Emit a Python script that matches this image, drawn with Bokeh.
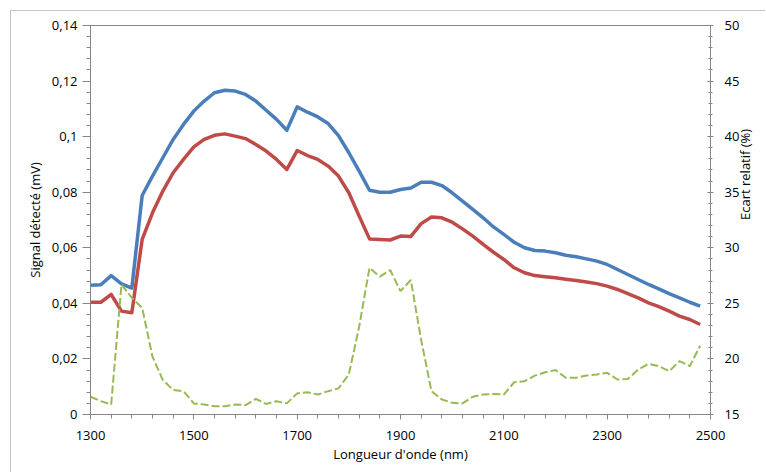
import math
from bokeh.plotting import figure
from bokeh.models import Range1d, LinearAxis, FixedTicker, CustomJSTickFormatter
from bokeh.embed import file_html
from bokeh.resources import INLINE

# ---------------- data ----------------
wavelength = [1300, 1320, 1340, 1360, 1380, 1400, 1420, 1440, 1460, 1480,
              1500, 1520, 1540, 1560, 1580, 1600, 1620, 1640, 1660, 1680,
              1700, 1720, 1740, 1760, 1780, 1800, 1820, 1840, 1860, 1880,
              1900, 1920, 1940, 1960, 1980, 2000, 2020, 2040, 2060, 2080,
              2100, 2120, 2140, 2160, 2180, 2200, 2220, 2240, 2260, 2280,
              2300, 2320, 2340, 2360, 2380, 2400, 2420, 2440, 2460, 2480]

signal_blue = [0.0465, 0.0467, 0.0500, 0.0470, 0.0455, 0.0788, 0.0858, 0.0924, 0.0990, 0.1044,
               0.1092, 0.1128, 0.1158, 0.1167, 0.1164, 0.1152, 0.1128, 0.1095, 0.1062, 0.1023,
               0.1107, 0.1088, 0.1071, 0.1047, 0.1004, 0.0942, 0.0876, 0.0807, 0.0800, 0.0800,
               0.0810, 0.0815, 0.0836, 0.0836, 0.0824, 0.0798, 0.0768, 0.0738, 0.0708, 0.0675,
               0.0648, 0.0620, 0.0600, 0.0590, 0.0588, 0.0582, 0.0573, 0.0568, 0.0560, 0.0552,
               0.0540, 0.0522, 0.0504, 0.0486, 0.0468, 0.0452, 0.0435, 0.0420, 0.0404, 0.0390]

signal_red = [0.0404, 0.0404, 0.0432, 0.0372, 0.0366, 0.0630, 0.0726, 0.0804, 0.0870, 0.0918,
              0.0963, 0.0990, 0.1005, 0.1010, 0.1002, 0.0993, 0.0972, 0.0948, 0.0918, 0.0882,
              0.0950, 0.0932, 0.0918, 0.0894, 0.0858, 0.0798, 0.0714, 0.0632, 0.0630, 0.0628,
              0.0642, 0.0641, 0.0687, 0.0711, 0.0708, 0.0692, 0.0668, 0.0642, 0.0612, 0.0584,
              0.0558, 0.0528, 0.0510, 0.0500, 0.0496, 0.0492, 0.0487, 0.0482, 0.0477, 0.0471,
              0.0462, 0.0450, 0.0435, 0.0420, 0.0402, 0.0388, 0.0372, 0.0354, 0.0342, 0.0324]

ecart_relatif = [16.6, 16.2, 15.9, 26.7, 25.5, 24.6, 20.2, 18.1, 17.2, 17.1,
                 16.0, 15.9, 15.75, 15.75, 15.9, 15.85, 16.4, 15.95, 16.2, 16.0,
                 16.9, 17.0, 16.8, 17.1, 17.35, 18.6, 22.9, 28.2, 27.4, 28.0,
                 26.1, 27.1, 21.7, 17.1, 16.35, 16.05, 16.0, 16.6, 16.8, 16.85,
                 16.8, 17.9, 18.0, 18.5, 18.8, 19.0, 18.3, 18.3, 18.5, 18.6,
                 18.75, 18.15, 18.2, 19.05, 19.55, 19.35, 18.9, 19.8, 19.35, 21.2]

x_ticks = [1300, 1500, 1700, 1900, 2100, 2300, 2500]
x_minor_ticks = list(range(1300, 2501, 40))
left_ticks = [0, 0.02, 0.04, 0.06, 0.08, 0.10, 0.12, 0.14]
left_tick_labels = ["0", "0,02", "0,04", "0,06", "0,08", "0,1", "0,12", "0,14"]
left_minor_ticks = [i * 0.004 for i in range(36)]
right_ticks = [15, 20, 25, 30, 35, 40, 45, 50]
right_minor_ticks = list(range(15, 51))

FONT = "Open Sans"
AXIS_COL = "#868686"
TXT_COL = "#000000"

p = figure(width=755, height=462, output_backend="svg", toolbar_location=None,
           x_range=Range1d(1300, 2500), y_range=Range1d(0, 0.14),
           min_border_left=79, min_border_right=54, min_border_top=14, min_border_bottom=59)
# light outer chart border (only its left and top edges are visible in the reference)
p.styles = {"border-left": "1px solid #c4c4c4", "border-top": "1px solid #c4c4c4",
            "margin-left": "10px", "margin-top": "10px"}
p.extra_y_ranges = {"ecart": Range1d(15, 50)}
p.grid.visible = False
p.outline_line_color = AXIS_COL
p.outline_line_width = 1
p.background_fill_color = "white"
p.border_fill_color = "white"

p.line(wavelength, signal_blue, line_color="#4a7ebb", line_width=3.5, line_join="round")
p.line(wavelength, signal_red, line_color="#be4b48", line_width=3.5, line_join="round")
p.line(wavelength, ecart_relatif, y_range_name="ecart", line_color="#98b954",
       line_width=2, line_dash="8 3")

right_axis = LinearAxis(y_range_name="ecart")
p.add_layout(right_axis, "right")

def style_axis(ax):
    ax.axis_line_color = AXIS_COL
    ax.major_tick_line_color = AXIS_COL
    ax.minor_tick_line_color = AXIS_COL
    ax.major_label_text_font = FONT
    ax.major_label_text_font_size = "13px"
    ax.major_label_text_color = TXT_COL
    ax.axis_label_text_font = FONT
    ax.axis_label_text_font_size = "13px"
    ax.axis_label_text_font_style = "normal"
    ax.axis_label_text_color = TXT_COL

xa = p.xaxis[0]
style_axis(xa)
xa.ticker = FixedTicker(ticks=x_ticks, minor_ticks=x_minor_ticks)
xa.axis_label = "Longueur d'onde (nm)"
xa.major_tick_in = 0
xa.major_tick_out = 5
xa.minor_tick_in = 0
xa.minor_tick_out = 4
xa.major_label_standoff = 11
xa.axis_label_standoff = 2

ya = p.yaxis[0]
style_axis(ya)
ya.ticker = FixedTicker(ticks=left_ticks, minor_ticks=left_minor_ticks)
ya.formatter = CustomJSTickFormatter(args=dict(vals=left_ticks, labels=left_tick_labels), code="""
    let best = 0;
    for (let i = 0; i < vals.length; i++) {
        if (Math.abs(vals[i] - tick) < Math.abs(vals[best] - tick)) best = i;
    }
    return labels[best];
""")
ya.axis_label = "Signal détecté (mV)"
ya.major_tick_in = 0
ya.major_tick_out = 8
ya.minor_tick_in = 0
ya.minor_tick_out = 4
ya.major_label_standoff = 5
ya.axis_label_standoff = 5

style_axis(right_axis)
right_axis.ticker = FixedTicker(ticks=right_ticks, minor_ticks=right_minor_ticks)
right_axis.major_tick_in = 3
right_axis.major_tick_out = 3
right_axis.minor_tick_in = 2
right_axis.minor_tick_out = 2
right_axis.major_label_standoff = 11
right_axis.axis_label = "Ecart relatif (%)"
right_axis.axis_label_standoff = 3
if hasattr(right_axis, "axis_label_orientation"):
    right_axis.axis_label_orientation = math.pi / 2

open("out.html", "w").write(file_html(p, INLINE))
